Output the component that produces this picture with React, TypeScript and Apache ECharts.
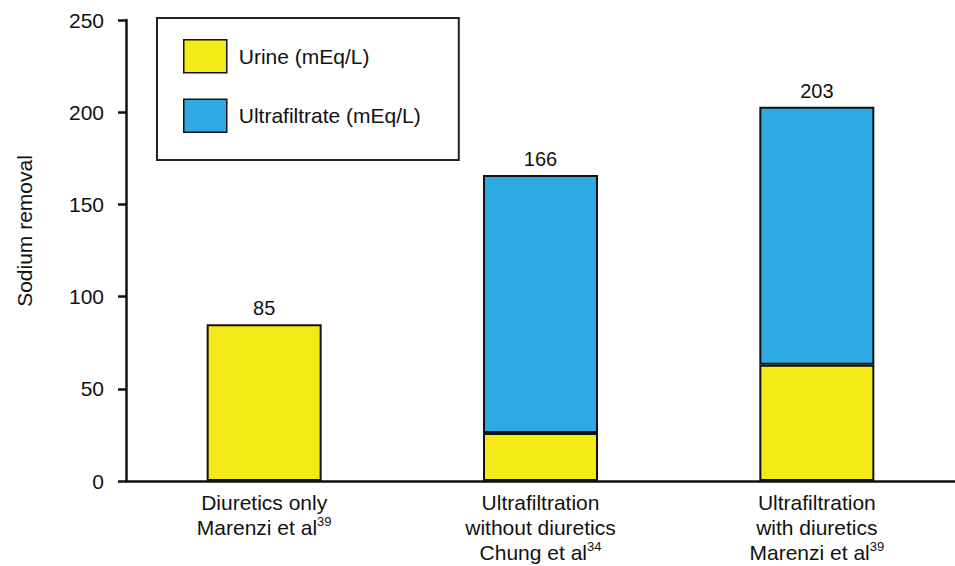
import React, { useEffect, useRef } from "react";
import * as echarts from "echarts";

const categories = [
  "Diuretics only\n{a|Marenzi et al}{sup|39}",
  "Ultrafiltration\nwithout diuretics\n{a|Chung et al}{sup|34}",
  "Ultrafiltration\nwith diuretics\n{a|Marenzi et al}{sup|39}",
];
const urine = [85, 26, 63];
const ultrafiltrate: (number | string)[] = ["-", 140, 140];
const totals = [85, 166, 203];
const yTicks = [0, 50, 100, 150, 200, 250];
const yTitle = "Sodium removal";

const FONT = "'Liberation Sans', Arial, sans-serif";
const YELLOW = "#F4EA17";
const BLUE = "#2FA9E1";
const EDGE = "#111111";

export default function App() {
  const ref = useRef<HTMLDivElement>(null);
  useEffect(() => {
    if (!ref.current) return;
    const chart = echarts.init(ref.current, undefined, { renderer: "svg" });
    const labelStyle = {
      show: true,
      position: "top" as const,
      distance: 6,
      fontSize: 20,
      color: "#111",
      fontFamily: FONT,
    };
    chart.setOption({
      animation: false,
      backgroundColor: "#ffffff",
      textStyle: { fontFamily: FONT },
      grid: { left: 126, top: 20, width: 866, height: 461, containLabel: false },
      graphic: [
        {
          type: "text",
          x: 24,
          y: 231,
          rotation: Math.PI / 2,
          style: {
            text: yTitle,
            fontSize: 21,
            fontFamily: FONT,
            fill: "#111",
            textAlign: "center",
            textVerticalAlign: "middle",
          },
        },
      ],
      legend: {
        show: true,
        orient: "vertical",
        left: 157,
        top: 18,
        padding: [21, 38, 27, 26],
        itemWidth: 43,
        itemHeight: 33,
        itemGap: 25,
        icon: "rect",
        borderColor: "#222",
        borderWidth: 2,
        backgroundColor: "#fff",
        textStyle: { fontSize: 21, color: "#111", fontFamily: FONT, padding: [0, 0, 0, 7] },
        data: [
          { name: "Urine (mEq/L)", itemStyle: { color: YELLOW, borderColor: EDGE, borderWidth: 1.5 } },
          { name: "Ultrafiltrate (mEq/L)", itemStyle: { color: BLUE, borderColor: EDGE, borderWidth: 1.5 } },
        ],
      },
      xAxis: {
        type: "category",
        data: categories,
        axisLine: { show: true, lineStyle: { color: EDGE, width: 2.5 } },
        axisTick: { show: false },
        axisLabel: {
          interval: 0,
          margin: 9,
          fontSize: 21,
          lineHeight: 25,
          color: "#111",
          fontFamily: FONT,
          rich: {
            a: { fontSize: 21, lineHeight: 25, color: "#111", fontFamily: FONT },
            sup: { fontSize: 13, lineHeight: 17, verticalAlign: "top", color: "#111", fontFamily: FONT },
          },
        },
      },
      yAxis: {
        type: "value",
        min: 0,
        max: 250,
        interval: 50,
        axisLine: { show: true, lineStyle: { color: EDGE, width: 2.5 } },
        axisTick: { show: true, length: 8, lineStyle: { color: EDGE, width: 2.5 } },
        splitLine: { show: false },
        axisLabel: {
          margin: 22,
          fontSize: 21,
          color: "#111",
          fontFamily: FONT,
          customValues: yTicks,
        },
      },
      series: [
        {
          name: "Urine (mEq/L)",
          type: "bar",
          stack: "total",
          barWidth: 115,
          itemStyle: { color: YELLOW, borderColor: EDGE, borderWidth: 2 },
          data: urine.map((v, i) => ({
            value: v,
            label: ultrafiltrate[i] === "-" ? { ...labelStyle, formatter: String(totals[i]) } : { show: false },
          })),
        },
        {
          name: "Ultrafiltrate (mEq/L)",
          type: "bar",
          stack: "total",
          barWidth: 115,
          itemStyle: { color: BLUE, borderColor: EDGE, borderWidth: 2 },
          data: ultrafiltrate.map((v, i) => ({
            value: v,
            label: v === "-" ? { show: false } : { ...labelStyle, formatter: String(totals[i]) },
          })),
        },
      ],
    });
    return () => chart.dispose();
  }, []);
  return (
    <div
      ref={ref}
      style={{ position: "absolute", left: 0, top: 0, width: 955, height: 566 }}
    />
  );
}
